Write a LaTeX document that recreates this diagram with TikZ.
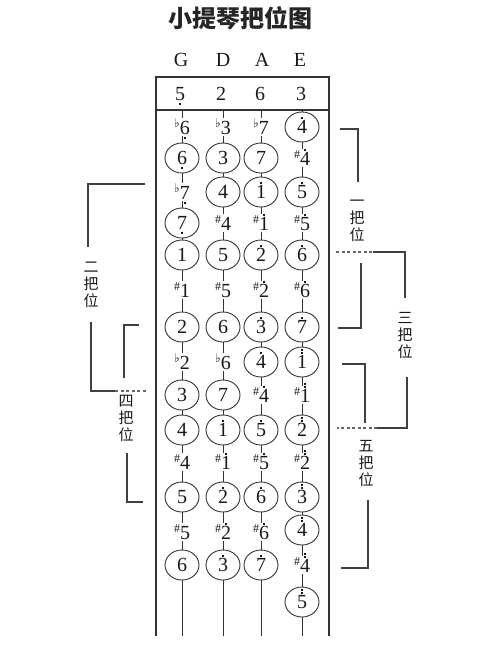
\documentclass[tikz,border=0pt]{standalone}
\usepackage{fontspec}
\setmainfont{Liberation Serif}
\newfontfamily\cjk{Noto Sans CJK SC}
\newfontfamily\symf{DejaVu Sans}
\usetikzlibrary{shapes.geometric}
\newcommand{\nDot}{\rule{1.9pt}{1.9pt}}
\newcommand{\nUp}[1]{\ooalign{#1\cr\hidewidth\raisebox{0.74em}[0pt][0pt]{\nDot}\hidewidth\cr}}
\newcommand{\nUpp}[1]{\ooalign{#1\cr\hidewidth\raisebox{0.72em}[0pt][0pt]{\nDot}\hidewidth\cr\hidewidth\raisebox{0.9em}[0pt][0pt]{\nDot}\hidewidth\cr}}
\newcommand{\nDn}[1]{\ooalign{#1\cr\hidewidth\raisebox{-0.22em}[0pt][0pt]{\nDot}\hidewidth\cr}}
\newcommand{\nSh}{\raisebox{0.36em}{\fontsize{12}{12}\selectfont\#}}
\newcommand{\nFl}{\raisebox{0.34em}{\symf\fontsize{12}{12}\selectfont ♭}}
\newcommand{\notefont}{\fontsize{20}{22}\selectfont}
\tikzset{
  frame/.style={draw=black!80, line width=1.4pt},
  string/.style={draw=black!80, line width=0.9pt},
  ntext/.style={fill=white, inner sep=1pt, font=\notefont, text=black!90},
  ncirc/.style={ellipse, draw=black!80, line width=0.9pt, fill=white, minimum width=34pt, minimum height=30pt, inner sep=0pt, font=\notefont, text=black!90},
  br/.style={draw=black!75, line width=1.1pt},
  brd/.style={draw=black!60, line width=1.1pt, dash pattern=on 3pt off 2.5pt},
  lab/.style={font=\cjk\fontsize{15}{17}\selectfont, align=center, inner sep=0pt, text=black!90},
  hdr/.style={font=\notefont, text=black!90},
}
\begin{document}
\begin{tikzpicture}[x=1pt,y=-1pt]
\useasboundingbox (0,0) rectangle (500,654);
\fill[white] (0,0) rectangle (500,654);
% title
\node[font=\cjk\bfseries\fontsize{24}{26}\selectfont, text=black!85] (title) at (240,18) {小提琴把位图};
% string names
\node[hdr] (nG) at (181,60) {G};
\node[hdr] (nD) at (223,60) {D};
\node[hdr] (nA) at (262,60) {A};
\node[hdr] (nE) at (300,60) {E};
% frame
\draw[frame] (156,636) -- (156,77) -- (329,77) -- (329,636);
\draw[frame] (156,110) -- (329,110);
% open strings
\node[hdr] (h1) at (180,94) {\nDn{5}};
\node[hdr] (h2) at (221,94) {2};
\node[hdr] (h3) at (260,94) {6};
\node[hdr] (h4) at (301,94) {3};
% strings
\coordinate (gt) at (182,110); \coordinate (gb) at (182,636);
\coordinate (dt) at (223,110); \coordinate (db) at (223,636);
\coordinate (at) at (261,110); \coordinate (ab) at (261,636);
\coordinate (et) at (302,110); \coordinate (eb) at (302,636);
\draw[string] (gt) -- (gb);
\draw[string] (dt) -- (db);
\draw[string] (at) -- (ab);
\draw[string] (et) -- (eb);
% row 1
\node[ntext] (g1) at (182,127) {\nFl\nDn{6}};
\node[ntext] (d1) at (223,127) {\nFl 3};
\node[ntext] (a1) at (261,127) {\nFl 7};
\node[ncirc] (e1) at (302,127) {\nUp{4}};
% row 2
\node[ncirc] (g2) at (182,158) {\nDn{6}};
\node[ncirc] (d2) at (223,158) {3};
\node[ncirc] (a2) at (261,158) {7};
\node[ntext] (e2) at (302,158) {\nSh\nUp{4}};
% row 3
\node[ntext] (g3) at (182,192) {\nFl\nDn{7}};
\node[ncirc] (d3) at (223,192) {4};
\node[ncirc] (a3) at (261,192) {\nUp{1}};
\node[ncirc] (e3) at (302,192) {\nUp{5}};
% row 4
\node[ncirc] (g4) at (182,223) {\nDn{7}};
\node[ntext] (d4) at (223,223) {\nSh 4};
\node[ntext] (a4) at (261,223) {\nSh\nUp{1}};
\node[ntext] (e4) at (302,223) {\nSh\nUp{5}};
% row 5
\node[ncirc] (g5) at (182,255) {1};
\node[ncirc] (d5) at (223,255) {5};
\node[ncirc] (a5) at (261,255) {\nUp{2}};
\node[ncirc] (e5) at (302,255) {\nUp{6}};
% row 6
\node[ntext] (g6) at (182,290) {\nSh 1};
\node[ntext] (d6) at (223,290) {\nSh 5};
\node[ntext] (a6) at (261,290) {\nSh\nUp{2}};
\node[ntext] (e6) at (302,290) {\nSh\nUp{6}};
% row 7
\node[ncirc] (g7) at (182,327) {2};
\node[ncirc] (d7) at (223,327) {6};
\node[ncirc] (a7) at (261,327) {\nUp{3}};
\node[ncirc] (e7) at (302,327) {\nUp{7}};
% row 8
\node[ntext] (g8) at (182,362) {\nFl 2};
\node[ntext] (d8) at (223,362) {\nFl 6};
\node[ncirc] (a8) at (261,362) {\nUp{4}};
\node[ncirc] (e8) at (302,362) {\nUpp{1}};
% row 9
\node[ncirc] (g9) at (182,395) {3};
\node[ncirc] (d9) at (223,395) {7};
\node[ntext] (a9) at (261,395) {\nSh\nUp{4}};
\node[ntext] (e9) at (302,395) {\nSh\nUpp{1}};
% row 10
\node[ncirc] (g10) at (182,430) {4};
\node[ncirc] (d10) at (223,430) {\nUp{1}};
\node[ncirc] (a10) at (261,430) {\nUp{5}};
\node[ncirc] (e10) at (302,430) {\nUpp{2}};
% row 11
\node[ntext] (g11) at (182,462) {\nSh 4};
\node[ntext] (d11) at (223,462) {\nSh\nUp{1}};
\node[ntext] (a11) at (261,462) {\nSh\nUp{5}};
\node[ntext] (e11) at (302,462) {\nSh\nUpp{2}};
% row 12
\node[ncirc] (g12) at (182,497) {5};
\node[ncirc] (d12) at (223,497) {\nUp{2}};
\node[ncirc] (a12) at (261,497) {\nUp{6}};
\node[ncirc] (e12) at (302,497) {\nUpp{3}};
% row 13
\node[ntext] (g13) at (182,532) {\nSh 5};
\node[ntext] (d13) at (223,532) {\nSh\nUp{2}};
\node[ntext] (a13) at (261,532) {\nSh\nUp{6}};
\node[ncirc] (e13) at (302,530) {\nUpp{4}};
% row 14
\node[ncirc] (g14) at (182,565) {6};
\node[ncirc] (d14) at (223,565) {\nUp{3}};
\node[ncirc] (a14) at (261,565) {\nUp{7}};
\node[ntext] (e14) at (302,565) {\nSh\nUpp{4}};
% row 15
\node[ncirc] (e15) at (302,602) {\nUpp{5}};
% 一把位
\draw[br] (340,129) -- (358,129) -- (358,182);
\node[lab] (l1) at (357,221) {一\\把\\位};
\draw[br] (361,263) -- (361,328) -- (338,328);
% 三把位
\draw[brd] (336,252) -- (373,252);
\draw[br] (373,252) -- (405,252) -- (405,298);
\node[lab] (l3) at (405,336) {三\\把\\位};
\draw[br] (407,377) -- (407,428) -- (377,428);
\draw[brd] (377,428) -- (337,428);
% 五把位
\draw[br] (342,364) -- (365,364) -- (365,423);
\node[lab] (l5) at (366,464) {五\\把\\位};
\draw[br] (368,500) -- (368,568) -- (341,568);
% 二把位
\draw[br] (145,184) -- (88,184) -- (88,247);
\node[lab] (l2) at (91,285) {二\\把\\位};
\draw[br] (91,322) -- (91,391) -- (115,391);
\draw[brd] (115,391) -- (147,391);
% 四把位
\draw[br] (139,325) -- (124,325) -- (124,378);
\node[lab] (l4) at (126,418) {四\\把\\位};
\draw[br] (127,453) -- (127,502) -- (143,502);
\end{tikzpicture}
\end{document}
